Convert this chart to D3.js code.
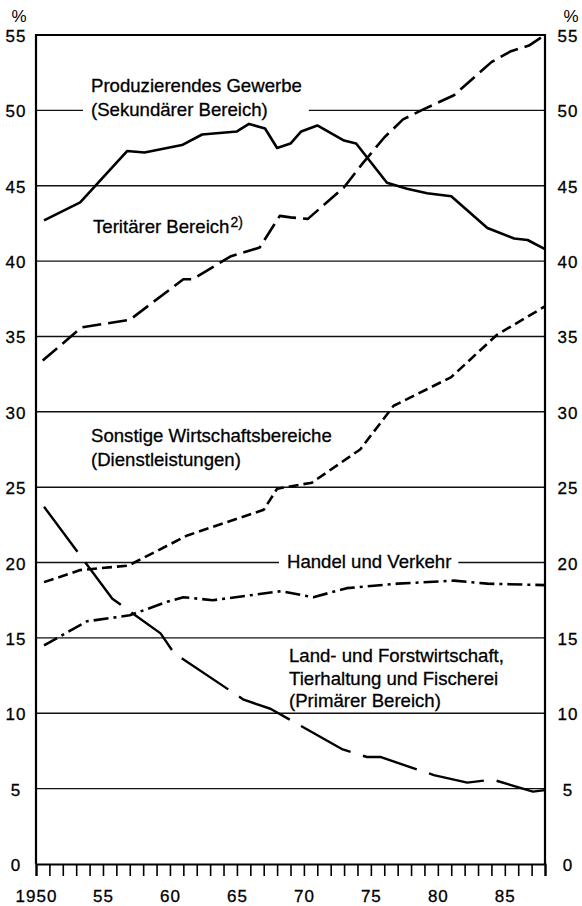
<!DOCTYPE html>
<html>
<head>
<meta charset="utf-8">
<script src="https://cdn.jsdelivr.net/npm/d3@7"></script>
<style>
  body { margin: 0; background: #fff; }
  svg { display: block; font-family: 'Liberation Sans', Arial, sans-serif; }
</style>
</head>
<body>
<svg width="582" height="906"></svg>
<script>
// Erwerbstaetige nach Wirtschaftsbereichen, Anteile in %
var years = d3.range(1950, 1989);
var labelYears = [1950, 1955, 1960, 1965, 1970, 1975, 1980, 1985];
var percentTicks = d3.range(0, 56, 5);

// [Jahr, Anteil]
var sekundaer = [
  [1950.6, 42.7], [1953.3, 43.9], [1956.8, 47.3], [1958.1, 47.2], [1960.9, 47.7],
  [1962.4, 48.4], [1965, 48.6], [1965.9, 49.1], [1967.1, 48.8], [1968, 47.5],
  [1969, 47.8], [1969.8, 48.6], [1971, 49.0], [1973, 48.0], [1973.9, 47.8],
  [1976.2, 45.2], [1977.7, 44.8], [1979.2, 44.5], [1981, 44.3], [1983.7, 42.2],
  [1985.7, 41.5], [1986.7, 41.4], [1988, 40.8]
];
var tertiaer = [
  [1950.5, 33.4], [1953.4, 35.6], [1957, 36.1], [1961, 38.8], [1961.7, 38.8],
  [1964.5, 40.3], [1966.7, 40.9], [1968.2, 43.0], [1969, 42.9], [1970.3, 42.8],
  [1973, 44.9], [1974.4, 46.5], [1976, 48.2], [1977.4, 49.4], [1979, 50.1],
  [1981.2, 51.0], [1984, 53.2], [1985.4, 53.9], [1986.8, 54.3], [1988, 55.0]
];
var sonstige = [
  [1950.6, 18.7], [1953.3, 19.5], [1956.9, 19.8], [1961.3, 21.8], [1967, 23.5],
  [1968, 24.9], [1970.6, 25.3], [1974.2, 27.5], [1976.7, 30.4], [1981, 32.3],
  [1984.4, 35.1], [1988, 37.0]
];
var handel = [
  [1950.6, 14.5], [1953.8, 16.1], [1957, 16.5], [1959.8, 17.4], [1961, 17.7],
  [1963.2, 17.5], [1968.3, 18.1], [1970.7, 17.7], [1973.2, 18.3], [1977, 18.6],
  [1981.2, 18.8], [1983.7, 18.6], [1988, 18.5]
];
var primaer = [
  [1950.6, 23.7], [1955.7, 17.6], [1959.3, 15.3], [1960.3, 14.0], [1965.5, 10.9],
  [1967.5, 10.3], [1972.9, 7.6], [1974.7, 7.1], [1975.7, 7.1], [1979.7, 5.9],
  [1982.2, 5.4], [1984.1, 5.6], [1987.1, 4.8], [1988, 4.9]
];

var svg = d3.select('svg');
var x = d3.scaleLinear().domain([1950, 1988]).range([36, 545]);
var y = d3.scaleLinear().domain([0, 55]).range([864, 35]);

// horizontal grid
svg.append('g').selectAll('line').data(percentTicks.filter(function(d) { return d > 0; }))
  .enter().append('line')
  .attr('x1', x(1950)).attr('x2', x(1988))
  .attr('y1', function(d) { return y(d); }).attr('y2', function(d) { return y(d); })
  .style('stroke', '#111').style('stroke-width', 1.4);

// label blocks, some of them cut the grid line
var knockout = svg.append('g');
var series = svg.append('g');
var labels = svg.append('g').style('font-size', '18.6px').style('fill', '#000')
  .style('stroke', '#000').style('stroke-width', 0.3);

function block(lines, lx, ly, step, cut) {
  var t = labels.append('text').attr('x', lx).attr('y', ly);
  lines.forEach(function(line, i) {
    t.append('tspan').attr('x', lx).attr('dy', i === 0 ? 0 : step).text(line);
  });
  if (cut) {
    var b = t.node().getBBox();
    knockout.append('rect').attr('x', b.x - 8).attr('y', b.y)
      .attr('width', b.width + 15).attr('height', b.height).style('fill', '#fff');
  }
  return t;
}

block(['Produzierendes Gewerbe', '(Sekundärer Bereich)'], 91, 92, 24, true);
var tert = block(['Teritärer Bereich'], 93, 233, 0, false);
tert.append('tspan').attr('dx', 1).attr('dy', -6).style('font-size', '14px').text('2)');
block(['Sonstige Wirtschaftsbereiche', '(Dienstleistungen)'], 91, 442, 24, false);
block(['Handel und Verkehr'], 287, 568, 0, true);
block(['Land- und Forstwirtschaft,', 'Tierhaltung und Fischerei', '(Primärer Bereich)'], 289, 662, 22.5, false);

var line = d3.line().x(function(d) { return x(d[0]); }).y(function(d) { return y(d[1]); });
var styles = [
  { data: sekundaer, dash: null, w: 2.6 },
  { data: tertiaer, dash: '19,7', w: 2.6 },
  { data: sonstige, dash: '10,5', w: 2.6 },
  { data: handel, dash: '15,5,3,5', w: 2.6 },
  { data: primaer, dash: '56,13', w: 2.4 }
];
styles.forEach(function(s) {
  series.append('path').datum(s.data).attr('d', line)
    .style('fill', 'none').style('stroke', '#000')
    .style('stroke-width', s.w).style('stroke-dasharray', s.dash)
    .style('stroke-linejoin', 'round');
});

// frame
svg.append('path')
  .attr('d', 'M' + x(1950) + ',' + y(0) + 'V' + y(55) + 'H' + x(1988) + 'V' + y(0))
  .style('fill', 'none').style('stroke', '#000').style('stroke-width', 2.2);

// x axis with yearly ticks
var xAxis = d3.axisBottom(x).tickValues(years).tickSize(12).tickPadding(14)
  .tickFormat(function(d) {
    if (labelYears.indexOf(d) < 0) return '';
    return d === 1950 ? '1950' : String(d).slice(2);
  });
var gx = svg.append('g').attr('transform', 'translate(0,' + y(0) + ')').call(xAxis);
gx.select('.domain').style('stroke', '#000').style('stroke-width', 2.2);
gx.selectAll('.tick line').style('stroke', '#000').style('stroke-width', 1.6);
gx.selectAll('.tick text').style('font-size', '17px').style('letter-spacing', '1px')
  .style('fill', '#000').style('stroke', '#000').style('stroke-width', 0.3)
  .style('font-family', "'Liberation Sans', Arial, sans-serif");

// y labels, both sides
[16, 568].forEach(function(cx) {
  svg.append('g').selectAll('text').data(percentTicks).enter().append('text')
    .attr('x', cx).attr('y', function(d) { return y(d) + 7; })
    .attr('text-anchor', 'middle')
    .style('font-size', '17px').style('letter-spacing', '1px').style('fill', '#000')
    .style('stroke', '#000').style('stroke-width', 0.3)
    .text(function(d) { return d; });
  svg.append('text').attr('x', cx + 3).attr('y', 22).attr('text-anchor', 'middle')
    .style('font-size', '17px').style('fill', '#000').text('%');
});
</script>
</body>
</html>
